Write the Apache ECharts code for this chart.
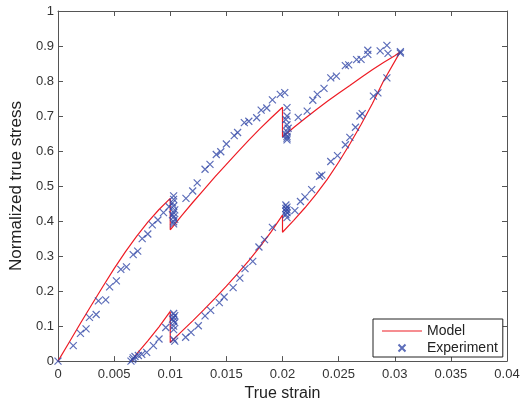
<!DOCTYPE html>
<html>
<head>
<meta charset="utf-8">
<script src="https://cdn.jsdelivr.net/npm/echarts@6/dist/echarts.min.js"></script>
<style>
  html, body { margin: 0; padding: 0; background: #fff; }
  #chart { width: 526px; height: 407px; }
</style>
</head>
<body>
<div id="chart"></div>
<script>
// model: load / relax / load / relax / load, then unload / recover / unload / recover / unload
const modelStrain = [
  0, 0.001, 0.002, 0.003, 0.004, 0.005, 0.006, 0.007, 0.008, 0.009, 0.01,
  0.01, 0.011, 0.012, 0.013, 0.014, 0.015, 0.016, 0.017, 0.018, 0.019, 0.02,
  0.02, 0.021, 0.022, 0.023, 0.024, 0.025, 0.026, 0.027, 0.028, 0.029, 0.030, 0.0305,
  0.029, 0.028, 0.027, 0.026, 0.025, 0.024, 0.023, 0.022, 0.021, 0.02,
  0.02, 0.019, 0.018, 0.017, 0.016, 0.015, 0.014, 0.013, 0.012, 0.011, 0.01,
  0.01, 0.009, 0.008, 0.007, 0.00655
];
const modelStress = [
  0, 0.054, 0.108, 0.161, 0.213, 0.264, 0.312, 0.356, 0.397, 0.433, 0.465,
  0.375, 0.415, 0.453, 0.49, 0.527, 0.562, 0.597, 0.631, 0.664, 0.695, 0.725,
  0.64, 0.667, 0.693, 0.718, 0.742, 0.765, 0.787, 0.81, 0.832, 0.853, 0.872, 0.884,
  0.8, 0.735, 0.676, 0.62, 0.568, 0.52, 0.477, 0.438, 0.402, 0.368,
  0.417, 0.37, 0.327, 0.287, 0.25, 0.214, 0.18, 0.147, 0.115, 0.084, 0.053,
  0.142, 0.098, 0.058, 0.02, 0
];

const expStrain = [
  0, 0.00136, 0.002, 0.0025, 0.0028, 0.0034, 0.0036, 0.00425, 0.0046, 0.0052,
  0.0056, 0.0061, 0.0067, 0.0071, 0.0075, 0.008, 0.0084, 0.0089, 0.0094, 0.0099,
  0.0103, 0.0103, 0.0102, 0.0103, 0.0104, 0.0103, 0.0102, 0.0103, 0.0104, 0.0103, 0.0103,
  0.0114, 0.012, 0.0124, 0.0131, 0.01354, 0.0141, 0.0145, 0.015, 0.0157, 0.016,
  0.0166, 0.017, 0.0177, 0.0181, 0.0186, 0.0191, 0.0198, 0.0202,
  0.0204, 0.0204, 0.0203, 0.0204, 0.0205, 0.0204, 0.0203, 0.0204, 0.0204, 0.0204,
  0.0214, 0.0222, 0.0227, 0.0231, 0.0237, 0.0243, 0.0248, 0.0256, 0.0259, 0.0266,
  0.027, 0.0276, 0.0276, 0.0287, 0.0293, 0.0294, 0.0305, 0.0305,
  0.0293, 0.0285, 0.0281, 0.0271, 0.0269, 0.0265, 0.026, 0.0256, 0.0249, 0.0243,
  0.0235, 0.0233, 0.0226, 0.022, 0.0216, 0.0211,
  0.0203, 0.0204, 0.0203, 0.0204, 0.0203, 0.0204, 0.0203, 0.0204,
  0.0191, 0.0184, 0.0179, 0.01735, 0.01666, 0.0162, 0.0156, 0.0148, 0.01437, 0.0136,
  0.0131, 0.0125, 0.01185, 0.01137,
  0.0103, 0.0104, 0.0103, 0.0102, 0.0103, 0.0104, 0.0103, 0.0103, 0.0103, 0.0104,
  0.0096, 0.009, 0.0085, 0.0079, 0.00746, 0.00716, 0.00686, 0.0067, 0.00665, 0.0065
];
const expStress = [
  0, 0.044, 0.079, 0.092, 0.125, 0.133, 0.172, 0.175, 0.212, 0.229,
  0.262, 0.269, 0.304, 0.314, 0.35, 0.363, 0.389, 0.403, 0.424, 0.441,
  0.472, 0.462, 0.452, 0.443, 0.432, 0.424, 0.418, 0.412, 0.405, 0.398, 0.392,
  0.465, 0.486, 0.509, 0.548, 0.562, 0.59, 0.598, 0.62, 0.644, 0.653,
  0.681, 0.685, 0.695, 0.717, 0.723, 0.746, 0.762, 0.767,
  0.724, 0.7, 0.69, 0.675, 0.665, 0.655, 0.648, 0.642, 0.637, 0.632,
  0.696, 0.714, 0.745, 0.762, 0.779, 0.809, 0.814, 0.844, 0.846, 0.861,
  0.862, 0.876, 0.888, 0.886, 0.902, 0.879, 0.88, 0.884,
  0.809, 0.766, 0.757, 0.707, 0.7, 0.668, 0.639, 0.618, 0.587, 0.57,
  0.531, 0.528, 0.49, 0.469, 0.456, 0.43,
  0.446, 0.44, 0.436, 0.432, 0.428, 0.424, 0.418, 0.41,
  0.382, 0.347, 0.326, 0.285, 0.264, 0.237, 0.21, 0.183, 0.167, 0.145,
  0.129, 0.101, 0.082, 0.068,
  0.136, 0.13, 0.125, 0.12, 0.115, 0.11, 0.1, 0.09, 0.062, 0.057,
  0.096, 0.063, 0.044, 0.025, 0.019, 0.016, 0.013, 0.009, 0.004, 0
];

const font = 'Liberation Sans, Arial, sans-serif';
const axisColor = '#555';
const crossPath = 'path://M0,0L10,10M0,10L10,0';

const modelData = modelStrain.map((x, i) => [x, modelStress[i]]);
const expData = expStrain.map((x, i) => [x, expStress[i]]);

function frameAxis(pos, isX) {
  return {
    type: 'value',
    position: pos,
    min: 0,
    max: isX ? 0.04 : 1,
    interval: isX ? 0.005 : 0.1,
    axisLine: { show: true, onZero: false, lineStyle: { color: axisColor, width: 1 } },
    axisTick: { show: true, inside: true, length: 5, lineStyle: { color: axisColor } },
    axisLabel: { show: false },
    splitLine: { show: false }
  };
}

const chart = echarts.init(document.getElementById('chart'), null, { renderer: 'canvas' });

chart.setOption({
  backgroundColor: '#ffffff',
  animation: false,
  grid: { left: 58, right: 19, top: 11, bottom: 43 },
  xAxis: [
    Object.assign(frameAxis('bottom', true), {
      axisLabel: { show: true, color: '#333', fontSize: 13, fontFamily: font, margin: 7 },
      name: 'True strain',
      nameLocation: 'middle',
      nameGap: 22,
      nameTextStyle: { color: '#222', fontSize: 16, fontFamily: font }
    }),
    frameAxis('top', true)
  ],
  yAxis: [
    Object.assign(frameAxis('left', false), {
      axisLabel: { show: true, color: '#333', fontSize: 13, fontFamily: font, margin: 4 },
      name: 'Normalized true stress',
      nameLocation: 'middle',
      nameGap: 30,
      nameTextStyle: { color: '#222', fontSize: 17, fontFamily: font }
    }),
    frameAxis('right', false)
  ],
  legend: {
    orient: 'vertical',
    left: 373,
    top: 319,
    backgroundColor: '#fff',
    borderColor: '#222',
    borderWidth: 1,
    borderRadius: 0,
    padding: [5, 5, 2, 9],
    itemGap: 3,
    itemWidth: 40,
    itemHeight: 7,
    symbolKeepAspect: true,
    textStyle: { color: '#222', fontSize: 14, fontFamily: font },
    data: [
      { name: 'Model', icon: 'path://M0,0H40V1H0Z', itemStyle: { color: '#ee1c25', borderWidth: 0 } },
      { name: 'Experiment', icon: crossPath }
    ]
  },
  series: [
    {
      name: 'Model',
      type: 'line',
      data: modelData,
      symbol: 'none',
      lineStyle: { color: '#ee1c25', width: 1.2 },
      itemStyle: { color: '#ee1c25' },
      z: 2
    },
    {
      name: 'Experiment',
      type: 'scatter',
      data: expData,
      symbol: crossPath,
      symbolSize: 7,
      itemStyle: { color: 'rgba(0,0,0,0)', borderColor: '#3348a8', borderWidth: 1.2 },
      z: 3
    }
  ]
});
</script>
</body>
</html>
